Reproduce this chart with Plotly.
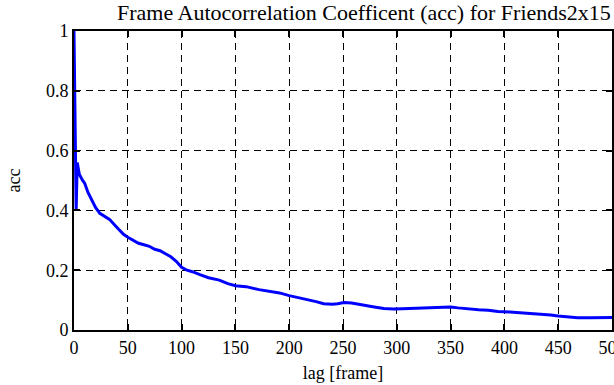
import plotly.graph_objects as go

lags = [0, 1, 2, 3, 5, 8, 10, 13, 17, 20, 24, 28, 33, 38, 42, 46, 50, 55, 60, 65,
        70, 75, 80, 85, 90, 95, 100, 105, 110, 117, 125, 135, 143, 150, 160, 172,
        181, 191, 200, 210, 218, 225, 232, 240, 245, 251, 258, 265, 272, 279, 288,
        297, 305, 320, 330, 339, 350, 357, 366, 376, 385, 394, 405, 413, 425, 436,
        443, 450, 460, 468, 480, 492, 500]
acc = [1.0, 0.66, 0.40, 0.56, 0.52, 0.50, 0.49, 0.46, 0.43, 0.41, 0.39, 0.38, 0.37,
       0.35, 0.335, 0.32, 0.31, 0.30, 0.29, 0.285, 0.28, 0.27, 0.265, 0.255, 0.245,
       0.23, 0.21, 0.20, 0.195, 0.185, 0.175, 0.167, 0.155, 0.148, 0.145, 0.135,
       0.13, 0.124, 0.115, 0.108, 0.10, 0.095, 0.088, 0.086, 0.088, 0.092, 0.09,
       0.085, 0.08, 0.077, 0.072, 0.07, 0.071, 0.073, 0.076, 0.077, 0.077, 0.074,
       0.07, 0.068, 0.066, 0.062, 0.06, 0.058, 0.056, 0.053, 0.05, 0.047, 0.044,
       0.041, 0.041, 0.042, 0.042]

x_ticks = [0, 50, 100, 150, 200, 250, 300, 350, 400, 450, 500]
y_ticks = [0, 0.2, 0.4, 0.6, 0.8, 1]
y_tick_text = ["0", "0.2", "0.4", "0.6", "0.8", "1"]

FONT = "Liberation Serif"

fig = go.Figure()
fig.add_trace(go.Scatter(x=lags, y=acc, mode="lines",
                         line=dict(color="#0000ff", width=3), showlegend=False))

axis_common = dict(
    showline=True, linecolor="black", linewidth=2, mirror="ticks",
    ticks="inside", ticklen=6, tickwidth=2, tickcolor="black",
    showgrid=True, gridcolor="black", gridwidth=1, griddash="7px,5px",
    zeroline=False, automargin=False, ticklabeloverflow="allow",
    tickfont=dict(family=FONT, size=18, color="black"),
)

fig.update_xaxes(range=[0, 500], tickvals=x_ticks,
                 ticktext=[str(v) for v in x_ticks],
                 title=dict(text="lag [frame]", font=dict(family=FONT, size=18, color="black"),
                            standoff=10),
                 **axis_common)
fig.update_yaxes(range=[0, 1], tickvals=y_ticks, ticktext=y_tick_text,
                 title=dict(text="acc", font=dict(family=FONT, size=18, color="black"),
                            standoff=21),
                 **axis_common)

fig.update_layout(
    width=614, height=385,
    margin=dict(l=74, r=2, t=31, b=55, autoexpand=False),
    paper_bgcolor="white", plot_bgcolor="white",
    font=dict(family=FONT, size=18, color="black"),
    title=dict(text="Frame Autocorrelation Coefficent (acc) for Friends2x15",
               x=117 / 614, xanchor="left", xref="container",
               y=1 - 12 / 385, yanchor="middle", yref="container",
               font=dict(family=FONT, size=22, color="black")),
)

fig.write_html("out.html", config={"displayModeBar": False},
               post_script="document.body.style.margin='0';")
